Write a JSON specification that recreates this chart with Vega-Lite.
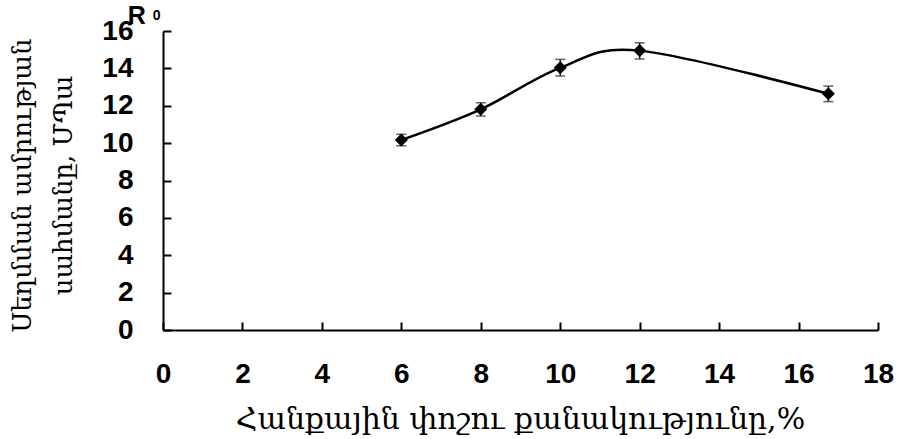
{
  "$schema": "https://vega.github.io/schema/vega-lite/v6.json",
  "autosize": {"type": "none"},
  "width": 715,
  "height": 299,
  "padding": {"left": 163, "top": 31, "right": 23, "bottom": 109},
  "background": "white",
  "config": {
    "view": {"stroke": null},
    "axis": {
      "grid": false,
      "domainColor": "black",
      "domainWidth": 2,
      "tickColor": "black",
      "tickWidth": 2,
      "tickSize": -8,
      "labelFont": "Liberation Sans",
      "labelFontWeight": "bold",
      "labelFontSize": 28,
      "labelColor": "black",
      "labelFlush": false,
      "labelOverlap": false,
      "labelSeparation": -30,
      "titleColor": "black",
      "titleFont": "DejaVu Serif",
      "titleFontWeight": "normal",
      "titleFontSize": 26
    }
  },
  "data": {
    "values": [
      {"x": 6, "y": 10.17, "lo": 9.86, "hi": 10.47},
      {"x": 8, "y": 11.81, "lo": 11.45, "hi": 12.16},
      {"x": 10, "y": 14.03, "lo": 13.59, "hi": 14.48},
      {"x": 12, "y": 14.95, "lo": 14.5, "hi": 15.37},
      {"x": 16.75, "y": 12.64, "lo": 12.22, "hi": 13.05}
    ]
  },
  "layer": [
    {
      "mark": {"type": "line", "interpolate": "cardinal", "tension": 0, "color": "black", "strokeWidth": 2.5},
      "encoding": {
        "x": {
          "field": "x", "type": "quantitative",
          "scale": {"domain": [0, 18], "nice": false},
          "axis": {
            "values": [0, 2, 4, 6, 8, 10, 12, 14, 16, 18],
            "labelOverlap": false,
            "labelPadding": 38,
            "title": "Հանքային փոշու քանակությունը,%",
            "titleFontSize": 30,
            "titleX": 357,
            "titleY": 89,
            "titleBaseline": "middle"
          }
        },
        "y": {
          "field": "y", "type": "quantitative",
          "scale": {"domain": [0, 16], "nice": false},
          "axis": {
            "values": [0, 2, 4, 6, 8, 10, 12, 14, 16],
            "tickCount": 9,
            "labelOverlap": false,
            "labelSeparation": -30,
            "labelPadding": 38,
            "title": ["Սեղմման ամրության", "սահմանը, ՄՊա"],
            "titleAngle": -90,
            "titleAlign": "center",
            "titleBaseline": "middle",
            "titleLineHeight": 41,
            "titleX": -141,
            "titleY": 154
          }
        }
      }
    },
    {
      "mark": {"type": "rule", "color": "#222222", "strokeWidth": 1.5},
      "encoding": {
        "x": {"field": "x", "type": "quantitative"},
        "y": {"field": "lo", "type": "quantitative"},
        "y2": {"field": "hi"}
      }
    },
    {
      "mark": {"type": "tick", "orient": "horizontal", "color": "#222222", "size": 10, "thickness": 1.5},
      "encoding": {
        "x": {"field": "x", "type": "quantitative"},
        "y": {"field": "lo", "type": "quantitative"}
      }
    },
    {
      "mark": {"type": "tick", "orient": "horizontal", "color": "#222222", "size": 10, "thickness": 1.5},
      "encoding": {
        "x": {"field": "x", "type": "quantitative"},
        "y": {"field": "hi", "type": "quantitative"}
      }
    },
    {
      "mark": {"type": "point", "shape": "diamond", "filled": true, "color": "black", "size": 170, "opacity": 1},
      "encoding": {
        "x": {"field": "x", "type": "quantitative"},
        "y": {"field": "y", "type": "quantitative"}
      }
    },
    {
      "data": {"values": [{"label": "R"}]},
      "mark": {"type": "text", "font": "Liberation Sans", "fontWeight": "bold", "fontSize": 25, "color": "black", "align": "center", "baseline": "middle"},
      "encoding": {
        "text": {"field": "label"},
        "x": {"datum": -0.66, "type": "quantitative"},
        "y": {"datum": 16.8, "type": "quantitative"}
      }
    },
    {
      "data": {"values": [{"label": "0"}]},
      "mark": {"type": "text", "font": "Liberation Sans", "fontWeight": "bold", "fontSize": 14, "color": "black", "align": "center", "baseline": "middle"},
      "encoding": {
        "text": {"field": "label"},
        "x": {"datum": -0.16, "type": "quantitative"},
        "y": {"datum": 16.8, "type": "quantitative"}
      }
    }
  ]
}
